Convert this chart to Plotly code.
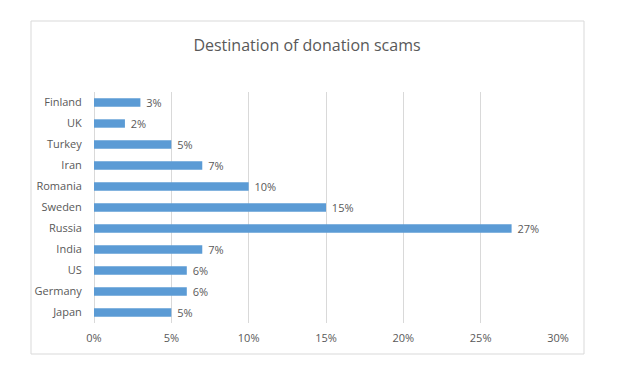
import plotly.graph_objects as go

countries = ["Finland", "UK", "Turkey", "Iran", "Romania", "Sweden", "Russia", "India", "US", "Germany", "Japan"]
shares = [3, 2, 5, 7, 10, 15, 27, 7, 6, 6, 5]
tick_vals = [0, 5, 10, 15, 20, 25, 30]
tick_text = ["0%", "5%", "10%", "15%", "20%", "25%", "30%"]
labels = [f"{v}%" for v in shares]

font_family = "Open Sans, Liberation Sans, Arial, sans-serif"

fig = go.Figure(go.Bar(
    x=shares, y=countries, orientation="h",
    marker=dict(color="#5B9BD5", line=dict(width=0)),
    text=labels, texttemplate=" %{text}", textposition="outside", cliponaxis=False,
    constraintext="none",
    textfont=dict(size=11, color="#595959", family=font_family),
))

# page has an 8px body margin, so the figure is laid out 8px up/left
fig.update_layout(
    width=620, height=357,
    margin=dict(l=86, r=70, t=84, b=42),
    paper_bgcolor="white", plot_bgcolor="white",
    bargap=0.6,
    showlegend=False,
    title=dict(text="Destination of donation scams", x=299 / 620, xanchor="center",
               y=1 - 37 / 357, yanchor="middle",
               font=dict(size=16, color="#595959", family=font_family)),
    xaxis=dict(range=[0, 30], tickvals=tick_vals, ticktext=tick_text,
               showgrid=True, gridcolor="#D9D9D9", gridwidth=1,
               zeroline=True, zerolinecolor="#D9D9D9", zerolinewidth=1,
               showline=False, ticks="outside", ticklen=5, tickcolor="rgba(0,0,0,0)",
               tickfont=dict(size=11, color="#595959", family=font_family)),
    yaxis=dict(categoryorder="array", categoryarray=countries, autorange="reversed",
               showgrid=False, showline=False, ticks="outside", ticklen=9, tickcolor="rgba(0,0,0,0)",
               tickfont=dict(size=11, color="#595959", family=font_family)),
    shapes=[dict(type="rect", xref="paper", yref="paper",
                 x0=(31 - 94) / 464, x1=(584 - 94) / 464,
                 y0=(323 - 354) / 231, y1=(323 - 21) / 231,
                 line=dict(color="#D9D9D9", width=1), fillcolor="rgba(0,0,0,0)", layer="below")],
)

fig.write_html("out.html")
